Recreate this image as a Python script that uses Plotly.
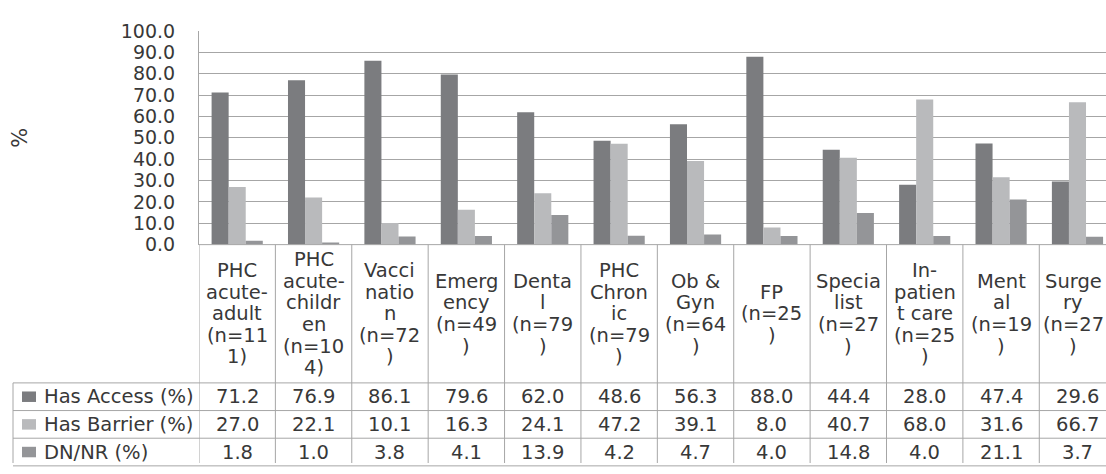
import plotly.graph_objects as go

# Service categories (wrapped as they appear in the table header)
categories = [
    "PHC<br>acute-<br>adult<br>(n=11<br>1)",
    "PHC<br>acute-<br>childr<br>en<br>(n=10<br>4)",
    "Vacci<br>natio<br>n<br>(n=72<br>)",
    "Emerg<br>ency<br>(n=49<br>)",
    "Denta<br>l<br>(n=79<br>)",
    "PHC<br>Chron<br>ic<br>(n=79<br>)",
    "Ob &<br>Gyn<br>(n=64<br>)",
    "FP<br>(n=25<br>)",
    "Specia<br>list<br>(n=27<br>)",
    "In-<br>patien<br>t care<br>(n=25<br>)",
    "Ment<br>al<br>(n=19<br>)",
    "Surge<br>ry<br>(n=27<br>)",
]

series_names = ["Has Access (%)", "Has Barrier (%)", "DN/NR (%)"]
has_access = [71.2, 76.9, 86.1, 79.6, 62.0, 48.6, 56.3, 88.0, 44.4, 28.0, 47.4, 29.6]
has_barrier = [27.0, 22.1, 10.1, 16.3, 24.1, 47.2, 39.1, 8.0, 40.7, 68.0, 31.6, 66.7]
dn_nr = [1.8, 1.0, 3.8, 4.1, 13.9, 4.2, 4.7, 4.0, 14.8, 4.0, 21.1, 3.7]

y_ticks = [0, 10, 20, 30, 40, 50, 60, 70, 80, 90, 100]

series_values = [has_access, has_barrier, dn_nr]
series_colors = ["#7b7c7f", "#b9babc", "#949598"]

W, H = 1106, 474
TEXT = "#383838"
LINE = "#a6a6a6"
FONT = "DejaVu Sans"
TABLE_SIZE = 19.5
TICK_SIZE = 19
LINE_STEP = 22.6  # px between wrapped header lines


def px(x):
    return x / W


def py(y):
    return 1 - y / H


idx = list(range(len(categories)))

fig = go.Figure()
for name, vals, col in zip(series_names, series_values, series_colors):
    fig.add_trace(go.Bar(x=idx, y=vals, name=name, marker=dict(color=col, line=dict(width=0)),
                         showlegend=False))

# Plot frame (left edge of axis to right edge of the window)
plot_left, plot_top, plot_bottom = 199, 21, 245
col_w = 76.39
visible_cols = (W - plot_left) / col_w

fig.update_layout(
    width=W, height=H,
    margin=dict(l=0, r=0, t=0, b=0),
    paper_bgcolor="white", plot_bgcolor="white",
    barmode="group", bargap=0.33, bargroupgap=0,
    font=dict(family=FONT, color=TEXT, size=TICK_SIZE),
    xaxis=dict(domain=[px(plot_left), 1], range=[-0.5, -0.5 + visible_cols],
               showticklabels=False, showgrid=False, zeroline=False, showline=False, fixedrange=True),
    yaxis=dict(domain=[py(plot_bottom), py(plot_top)], range=[0, 100],
               tickvals=y_ticks, tickformat=".1f", showgrid=True, gridcolor=LINE, gridwidth=1,
               zeroline=False, showline=True, linecolor=LINE, linewidth=1,
               ticks="", ticklabelstandoff=19,
               tickfont=dict(family=FONT, size=TICK_SIZE, color=TEXT)),
)

shapes = []
annotations = []

# x-axis baseline
shapes.append(dict(type="line", xref="paper", yref="paper", x0=px(plot_left), x1=1,
                   y0=py(plot_bottom), y1=py(plot_bottom), line=dict(color=LINE, width=1)))

# Column separators running through the header and data rows
for i in range(len(categories) + 1):
    shapes.append(dict(type="line", xref="x", yref="paper", x0=i - 0.5, x1=i - 0.5,
                       y0=0, y1=py(plot_bottom), line=dict(color=LINE, width=1)))

# Data table rows
table_left = 13
row_lines = [390, 419, 448, 477]
shapes.append(dict(type="line", xref="paper", yref="paper", x0=px(table_left), x1=px(table_left),
                   y0=0, y1=py(row_lines[0]), line=dict(color=LINE, width=1)))
for yl in row_lines:
    shapes.append(dict(type="line", xref="paper", yref="paper", x0=px(table_left), x1=1,
                       y0=py(yl), y1=py(yl), line=dict(color=LINE, width=1)))

# Header cells: category names, one annotation per wrapped line, block centred vertically
header_mid = (plot_bottom + row_lines[0]) / 2
last = len(categories) - 1
for i, lab in enumerate(categories):
    parts = lab.split("<br>")
    n = len(parts)
    for k, part in enumerate(parts):
        yk = header_mid + (k - (n - 1) / 2) * LINE_STEP
        annotations.append(dict(x=i, y=py(yk), xref="x", yref="paper", text=part,
                                showarrow=False, xanchor="center", yanchor="middle",
                                xshift=-4 if i == last else 0,
                                font=dict(family=FONT, size=TABLE_SIZE, color=TEXT)))

# Series rows: legend key, name, and values
for r, (name, vals, col) in enumerate(zip(series_names, series_values, series_colors)):
    yc = (row_lines[r] + row_lines[r + 1]) / 2
    shapes.append(dict(type="rect", xref="paper", yref="paper", x0=px(22), x1=px(36),
                       y0=py(yc + 5.5), y1=py(yc - 5.5), fillcolor=col, line=dict(width=0)))
    annotations.append(dict(x=px(42), y=py(yc), xref="paper", yref="paper", text=name,
                            showarrow=False, xanchor="left", yanchor="middle",
                            font=dict(family=FONT, size=TABLE_SIZE, color=TEXT)))
    for i, v in enumerate(vals):
        annotations.append(dict(x=i, y=py(yc), xref="x", yref="paper", text=f"{v:.1f}",
                                showarrow=False, xanchor="center", yanchor="middle",
                                font=dict(family=FONT, size=TABLE_SIZE, color=TEXT)))

# Axis title
annotations.append(dict(x=px(20), y=py((plot_top + plot_bottom) / 2), xref="paper", yref="paper",
                        text="%", textangle=-90, showarrow=False, xanchor="center", yanchor="middle",
                        font=dict(family=FONT, size=21, color=TEXT)))

fig.update_layout(shapes=shapes, annotations=annotations)
fig.write_html("out.html")
